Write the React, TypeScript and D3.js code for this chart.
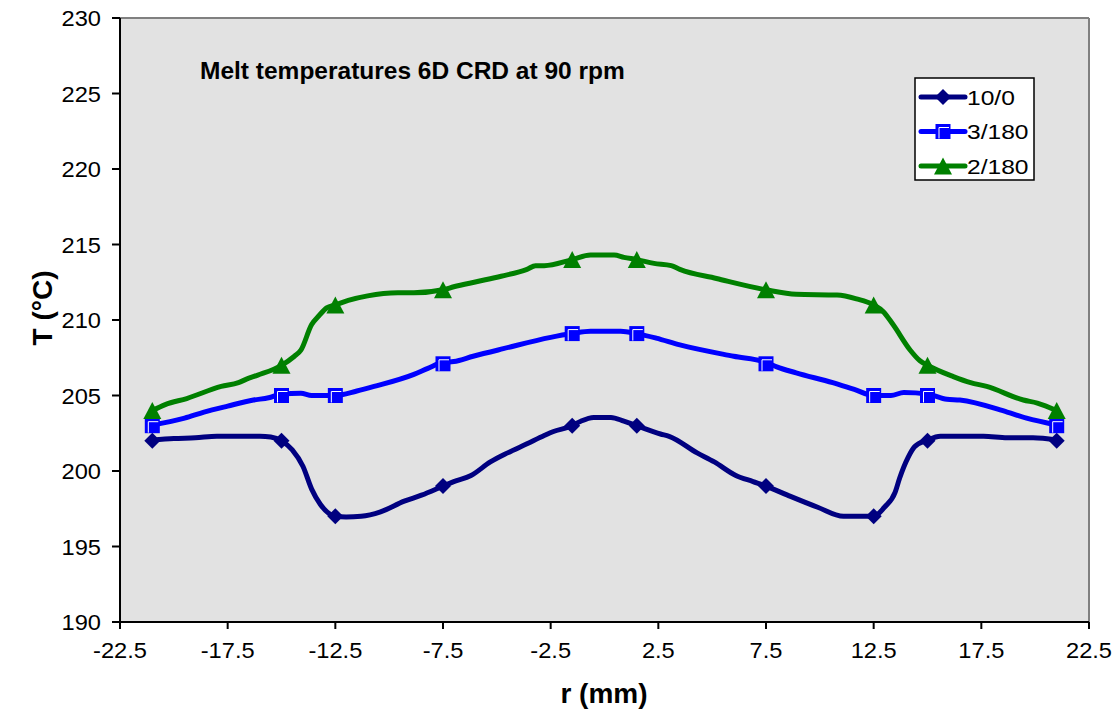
import React from "react";
import * as d3 from "d3";

// ---- data ----
const xTicks = [-22.5, -17.5, -12.5, -7.5, -2.5, 2.5, 7.5, 12.5, 17.5, 22.5];
const yTicks = [190, 195, 200, 205, 210, 215, 220, 225, 230];

const markerR = [-21, -15, -12.5, -7.5, -1.5, 1.5, 7.5, 12.5, 15, 21];
const marker10_0 = [202, 202, 197, 199, 203, 203, 199, 197, 202, 202];
const marker3_180 = [203, 205, 205, 207.1, 209.1, 209.1, 207.1, 205, 205, 203];
const marker2_180 = [204, 207, 211, 212, 214, 214, 212, 211, 207, 204];

const r10_0 = [-21, -20, -19, -18, -17, -16, -15.5, -15, -14.5, -14, -13.6, -13.2, -12.5, -12, -11.3, -10.4, -9.3, -8.5, -7.5, -7, -6.2, -5.3, -4.5, -3.6, -2.8, -2.4, -1.5, -1.1, -0.5, 0.3, 0.9, 1.5, 2.6, 3.0, 4.3, 5.1, 6.1, 6.9, 7.5, 8.5, 9.9, 11.1, 11.7, 12.5, 13.0, 13.5, 13.7, 14.1, 14.4, 15, 15.6, 16.6, 17.6, 18.7, 19.9, 21];
const t10_0 = [202.05, 202.15, 202.2, 202.3, 202.3, 202.3, 202.25, 202.0, 201.4, 200.3, 198.8, 197.8, 197.0, 196.95, 197.0, 197.3, 198.0, 198.4, 199.0, 199.3, 199.7, 200.6, 201.2, 201.8, 202.35, 202.6, 203.0, 203.3, 203.55, 203.55, 203.3, 203.0, 202.45, 202.3, 201.2, 200.6, 199.7, 199.3, 199.0, 198.4, 197.6, 197.0, 197.0, 197.0, 197.6, 198.6, 199.5, 200.9, 201.6, 202.05, 202.3, 202.3, 202.3, 202.2, 202.2, 202.05];

const r3_180 = [-21, -19.5, -18.6, -17.5, -16.3, -15.6, -15, -14.1, -13.6, -12.5, -11.5, -10.7, -8.85, -8.2, -7.5, -7, -6.1, -4.7, -2.5, -1.5, -0.65, 0.75, 1.5, 2.4, 3.5, 6, 7.5, 8, 8.9, 10.6, 11.6, 12.5, 13.3, 13.9, 15, 15.9, 16.5, 18.7, 19.6, 21];
const t3_180 = [203.05, 203.5, 203.9, 204.3, 204.7, 204.85, 205.1, 205.15, 205.0, 205.0, 205.3, 205.6, 206.4, 206.8, 207.2, 207.25, 207.6, 208.1, 208.85, 209.1, 209.25, 209.25, 209.1, 208.8, 208.35, 207.6, 207.2, 206.9, 206.5, 205.85, 205.4, 205.0, 205.0, 205.2, 205.1, 204.75, 204.7, 203.9, 203.5, 203.05];

const r2_180 = [-21, -20.4, -19.4, -17.8, -17, -16.6, -16.1, -15, -14.4, -14.1, -13.6, -13.25, -12.9, -12.5, -11.9, -11, -9.6, -8.85, -7.5, -7, -5.9, -4.8, -3.6, -3.2, -2.8, -1.5, -0.65, 0.45, 0.9, 1.5, 2.3, 3.1, 3.5, 5.2, 7.5, 8.9, 10.8, 11.7, 12.5, 12.95, 13.4, 14.2, 14.65, 15, 16.2, 17, 17.75, 19.45, 20.1, 21];
const t2_180 = [204.0, 204.4, 204.8, 205.6, 205.85, 206.1, 206.35, 207.0, 207.6, 208.0, 209.7, 210.3, 210.8, 211.0, 211.3, 211.6, 211.8, 211.8, 212.0, 212.2, 212.55, 212.9, 213.35, 213.6, 213.6, 214.0, 214.3, 214.3, 214.15, 214.0, 213.75, 213.6, 213.35, 212.75, 212.0, 211.7, 211.65, 211.4, 211.0, 210.55, 209.7, 208.0, 207.3, 207.0, 206.25, 205.85, 205.6, 204.7, 204.5, 204.0];

const seriesNames = ["10/0", "3/180", "2/180"];
const seriesColors = ["#000080", "#0000FF", "#008000"];

const title = "Melt temperatures 6D CRD at 90 rpm";
const xTitle = "r (mm)";
const yTitle = "T (°C)";

// ---- layout ----
const W = 1119, H = 712;
const PL = 120, PR = 1089, PT = 18, PB = 622;
const FONT = "'Liberation Sans', Arial, Helvetica, sans-serif";

const x = d3.scaleLinear().domain([-22.5, 22.5]).range([PL, PR]);
const y = d3.scaleLinear().domain([190, 230]).range([PB, PT]);

function Txt({ x, y, size, sx = 1, anchor = "start", bold = false, rotate = 0, children }: any) {
  return (
    <text
      transform={`translate(${x},${y}) rotate(${rotate}) scale(${sx},1)`}
      fontFamily={FONT}
      fontSize={size}
      fontWeight={bold ? "bold" : "normal"}
      textAnchor={anchor}
      fill="#000"
    >
      {children}
    </text>
  );
}

function Marker({ kind, cx, cy, color }: any) {
  if (kind === 0) {
    const s = 8;
    return <path d={`M${cx},${cy - s}L${cx + s},${cy}L${cx},${cy + s}L${cx - s},${cy}Z`} fill={color} />;
  }
  if (kind === 1) {
    const s = 7.5;
    return (
      <g>
        <rect x={cx - s} y={cy - s} width={2 * s} height={2 * s} fill={color} />
        <path d={`M${cx - s + 3.5},${cy + s - 0.5}L${cx - s + 3.5},${cy - s + 3.5}L${cx + s - 1.5},${cy - s + 3.5}`} fill="none" stroke="#fff" strokeWidth={1} />
      </g>
    );
  }
  const w = 9, h = 8.5;
  return <path d={`M${cx},${cy - h}L${cx + w},${cy + h}L${cx - w},${cy + h}Z`} fill={color} />;
}

export default function App() {
  const lineGen = d3
    .line<[number, number]>()
    .x((d) => x(d[0]))
    .y((d) => y(d[1]))
    .curve(d3.curveMonotoneX);

  const lines = [
    d3.zip(r10_0, t10_0) as [number, number][],
    d3.zip(r3_180, t3_180) as [number, number][],
    d3.zip(r2_180, t2_180) as [number, number][],
  ];
  const markers = [marker10_0, marker3_180, marker2_180];

  const legendX = 915, legendY = 78, legendW = 119, legendH = 102;
  const legendRows = [97, 131.5, 166];

  return (
    <svg width={W} height={H} style={{ position: "absolute", left: 0, top: 0, background: "#fff" }}>
      <rect x={0} y={0} width={W} height={H} fill="#fff" />
      {/* plot area */}
      <rect x={PL} y={PT} width={PR - PL} height={PB - PT} fill="#E2E2E2" />
      <line x1={PL} y1={PT} x2={PR} y2={PT} stroke="#808080" strokeWidth={2} />
      <line x1={PR} y1={PT} x2={PR} y2={PB} stroke="#808080" strokeWidth={2} />

      {/* axes */}
      <line x1={PL} y1={PT} x2={PL} y2={PB} stroke="#000" strokeWidth={2} />
      <line x1={PL} y1={PB} x2={PR} y2={PB} stroke="#000" strokeWidth={2} />
      {yTicks.map((t) => (
        <g key={"y" + t}>
          <line x1={PL - 8} x2={PL} y1={y(t)} y2={y(t)} stroke="#000" strokeWidth={2} />
          <Txt x={101} y={y(t) + 8} size={21.5} sx={1.1} anchor="end">{t}</Txt>
        </g>
      ))}
      {xTicks.map((t) => (
        <g key={"x" + t}>
          <line x1={x(t)} x2={x(t)} y1={PB} y2={PB + 7} stroke="#000" strokeWidth={2} />
          <Txt x={x(t)} y={658} size={21.5} sx={1.1} anchor="middle">{t}</Txt>
        </g>
      ))}

      {/* series */}
      {lines.map((pts, i) => (
        <path key={"l" + i} d={lineGen(pts) || ""} fill="none" stroke={seriesColors[i]} strokeWidth={5} strokeLinejoin="round" strokeLinecap="round" />
      ))}
      {markers.map((vals, i) =>
        vals.map((v, j) => <Marker key={`m${i}-${j}`} kind={i} cx={x(markerR[j])} cy={y(v)} color={seriesColors[i]} />)
      )}

      {/* title */}
      <Txt x={200} y={79} size={24.5} bold>{title}</Txt>

      {/* legend */}
      <rect x={legendX} y={legendY} width={legendW} height={legendH} fill="#fff" stroke="#000" strokeWidth={1.5} />
      {seriesNames.map((n, i) => (
        <g key={"lg" + i}>
          <line x1={921} x2={965} y1={legendRows[i]} y2={legendRows[i]} stroke={seriesColors[i]} strokeWidth={5} strokeLinecap="round" />
          <Marker kind={i} cx={943} cy={legendRows[i]} color={seriesColors[i]} />
          <Txt x={967} y={legendRows[i] + 7.5} size={20.5} sx={1.2}>{n}</Txt>
        </g>
      ))}

      {/* axis titles */}
      <Txt x={604} y={703} size={28} bold anchor="middle">{xTitle}</Txt>
      <Txt x={52} y={308} size={28} bold anchor="middle" rotate={-90}>{yTitle}</Txt>
    </svg>
  );
}
